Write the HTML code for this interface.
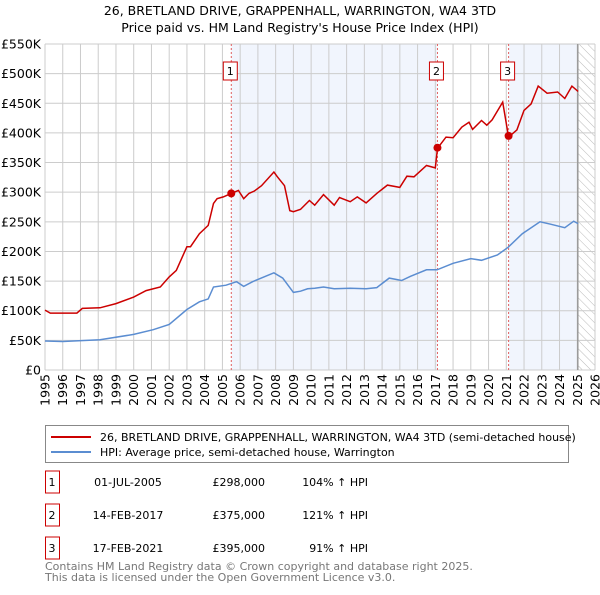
<!DOCTYPE html>
<html><head><meta charset="utf-8"><style>
body{margin:0;background:#fff;font-family:"Liberation Sans","DejaVu Sans",sans-serif;}
svg text{font-family:"DejaVu Sans","Liberation Sans",sans-serif;}
</style></head><body>
<svg id="c" width="600" height="590" viewBox="0 0 600 590" xmlns="http://www.w3.org/2000/svg">
<defs><pattern id="hatch" width="6" height="6" patternUnits="userSpaceOnUse" patternTransform="rotate(-45)"><line x1="0" y1="0" x2="0" y2="6" stroke="#bbb" stroke-width="1"/></pattern></defs>
<text x="300" y="15" text-anchor="middle" font-size="12.5" fill="#000">26, BRETLAND DRIVE, GRAPPENHALL, WARRINGTON, WA4 3TD</text>
<text x="300" y="32" text-anchor="middle" font-size="12.5" fill="#000">Price paid vs. HM Land Registry's House Price Index (HPI)</text>
<g id="plot"></g>
<g>
<rect x="45.5" y="425.5" width="523" height="37" fill="#fff" stroke="#888"/>
<line x1="51" y1="437" x2="91" y2="437" stroke="#cc0000" stroke-width="2"/>
<text x="100" y="441" font-size="11">26, BRETLAND DRIVE, GRAPPENHALL, WARRINGTON, WA4 3TD (semi-detached house)</text>
<line x1="51" y1="452" x2="91" y2="452" stroke="#5b8dd1" stroke-width="2"/>
<text x="100" y="456" font-size="11">HPI: Average price, semi-detached house, Warrington</text>
</g>
<g id="tbl" font-size="11"></g>
<text x="45" y="570" font-size="11" fill="#777">Contains HM Land Registry data © Crown copyright and database right 2025.</text>
<text x="45" y="581" font-size="11" fill="#777">This data is licensed under the Open Government Licence v3.0.</text>
</svg>
<script>
const hpiYears=[1995,1996,1998.1,2000,2001.1,2002,2003,2003.7,2004.2,2004.5,2005.2,2005.8,2006.2,2006.7,2007.9,2008.4,2009.0,2009.4,2009.8,2010.2,2010.7,2011.3,2012.2,2013.1,2013.7,2014.4,2015.1,2015.6,2016.5,2017.1,2018.0,2019.0,2019.6,2020.5,2021.1,2021.9,2022.9,2023.5,2024.3,2024.8,2025.05];
const hpiValues=[49,48,51,60,68,77,102,115,120,140,143,149,141,149,164,155,131,133,137,138,140,137,138,137,139,155,151,158,169,169,180,188,185,194,207,230,250,246,240,251,247];
const priceYears=[1995,1995.3,1996,1996.8,1997.1,1998.1,1999,2000,2000.7,2001.5,2002,2002.4,2003,2003.2,2003.7,2004.2,2004.5,2004.7,2005.05,2005.5,2005.9,2006.2,2006.5,2006.8,2007.2,2007.9,2008.1,2008.5,2008.8,2009,2009.4,2009.9,2010.2,2010.7,2011.3,2011.6,2012.2,2012.6,2013.1,2013.7,2014.3,2015,2015.4,2015.8,2016.5,2017.0,2017.12,2017.6,2018,2018.5,2018.9,2019.1,2019.6,2019.9,2020.2,2020.8,2021.13,2021.6,2022,2022.4,2022.8,2023.3,2023.9,2024.3,2024.7,2025.05];
const priceValues=[101,96,96,96,104,105,112,123,134,140,157,168,208,208,230,244,281,289,292,298,303,289,298,302,311,334,326,311,269,267,271,286,278,296,278,291,284,292,282,298,312,308,327,326,345,341,374,393,392,410,418,406,421,413,422,452,393,405,438,449,479,467,469,458,479,470];
const saleYears=[2005.5,2017.12,2021.13];
const saleValues=[298,375,395];
const saleLabels=["1","2","3"];
const saleDates=["01-JUL-2005","14-FEB-2017","17-FEB-2021"];
const salePrices=["£298,000","£375,000","£395,000"];
const salePcts=["104% \u2191 HPI","121% \u2191 HPI","91% \u2191 HPI"];
const yTicks=[0,50,100,150,200,250,300,350,400,450,500,550];
const xTicks=[1995,1996,1997,1998,1999,2000,2001,2002,2003,2004,2005,2006,2007,2008,2009,2010,2011,2012,2013,2014,2015,2016,2017,2018,2019,2020,2021,2022,2023,2024,2025,2026];
const dataEnd=2025.03;

const X0=45,X1=595,Y0=370,Y1=44;
const sx=y=>X0+(y-1995)/(2026-1995)*(X1-X0);
const sy=v=>Y0-v/550*(Y0-Y1);
const NS="http://www.w3.org/2000/svg";
const plot=document.getElementById('plot');
function mk(tag,attrs,parent){const e=document.createElementNS(NS,tag);for(const k in attrs)e.setAttribute(k,attrs[k]);(parent||plot).appendChild(e);return e;}

let r;
r=mk('rect',{x:X0,y:Y1,width:X1-X0,height:Y0-Y1,fill:'#fff'});


r=mk('rect',{x:sx(saleYears[0]),y:Y1,width:sx(saleYears[1])-sx(saleYears[0]),height:Y0-Y1,fill:'#eef3fc',opacity:0.8});


r=mk('rect',{x:sx(saleYears[2]),y:Y1,width:sx(dataEnd)-sx(saleYears[2]),height:Y0-Y1,fill:'#eef3fc',opacity:0.8});


r=mk('rect',{x:sx(dataEnd),y:Y1,width:X1-sx(dataEnd),height:Y0-Y1,fill:'url(#hatch)'});



yTicks.forEach(v=>{
 const l=mk('line',{x1:X0,x2:X1,y1:sy(v),y2:sy(v),stroke:'#ccc','stroke-width':1});
 
 
 const t=mk('text',{x:X0-4,y:sy(v)+4.5,'text-anchor':'end','font-size':'12.5',fill:'#000'});
 t.textContent=v===0?'£0':'£'+v+'K';
 
 
});
xTicks.forEach(y=>{
 const l=mk('line',{x1:sx(y),x2:sx(y),y1:Y1,y2:Y0,stroke:'#ccc','stroke-width':1});
 
 
 const t=mk('text',{transform:`translate(${sx(y)+4.5},${Y0+4}) rotate(-90)`,'text-anchor':'end','font-size':'12.5',fill:'#000'});
 t.textContent=y;
 
 
});
r=mk('line',{x1:sx(dataEnd),x2:sx(dataEnd),y1:Y1,y2:Y0,stroke:'#999','stroke-width':1.5});



saleYears.forEach((y,i)=>{
 const l=mk('line',{x1:sx(y),x2:sx(y),y1:Y1,y2:Y0,stroke:'#e06060','stroke-width':1,'stroke-dasharray':'2,2'});
 
 
 const b=mk('rect',{x:sx(y)-8,y:62,width:14,height:18,fill:'#fff',stroke:'#cc0000'});
 
 
 const t=mk('text',{x:sx(y)-1,y:75,'text-anchor':'middle','font-size':'11'});
 t.textContent=saleLabels[i];
 
 
});

const path=(xs,vs)=>xs.map((y,i)=>(i?'L':'M')+sx(y).toFixed(1)+','+sy(vs[i]).toFixed(1)).join('');
r=mk('path',{d:path(hpiYears,hpiValues),fill:'none',stroke:'#5b8dd1','stroke-width':1.5});


r=mk('path',{d:path(priceYears,priceValues),fill:'none',stroke:'#cc0000','stroke-width':1.5});


saleYears.forEach((y,i)=>{
 const c=mk('circle',{cx:sx(y),cy:sy(saleValues[i]),r:4,fill:'#cc0000'});
 
 
});

const tbl=document.getElementById('tbl');
const rowY=[482,515,548];
saleLabels.forEach((lab,i)=>{
 const y=rowY[i];
 const b=mk('rect',{x:45.5,y:y-11,width:14,height:22,fill:'#fff',stroke:'#cc0000'},tbl);
 
 
 const cells=[[52,lab,'middle'],[128,saleDates[i],'middle'],[265,salePrices[i],'end'],[368,salePcts[i],'end']];
 cells.forEach(c=>{
  const t=mk('text',{x:c[0],y:y+4,'text-anchor':c[2]},tbl);
  t.textContent=c[1];
  
  
 });
});
</script>
</body></html>
